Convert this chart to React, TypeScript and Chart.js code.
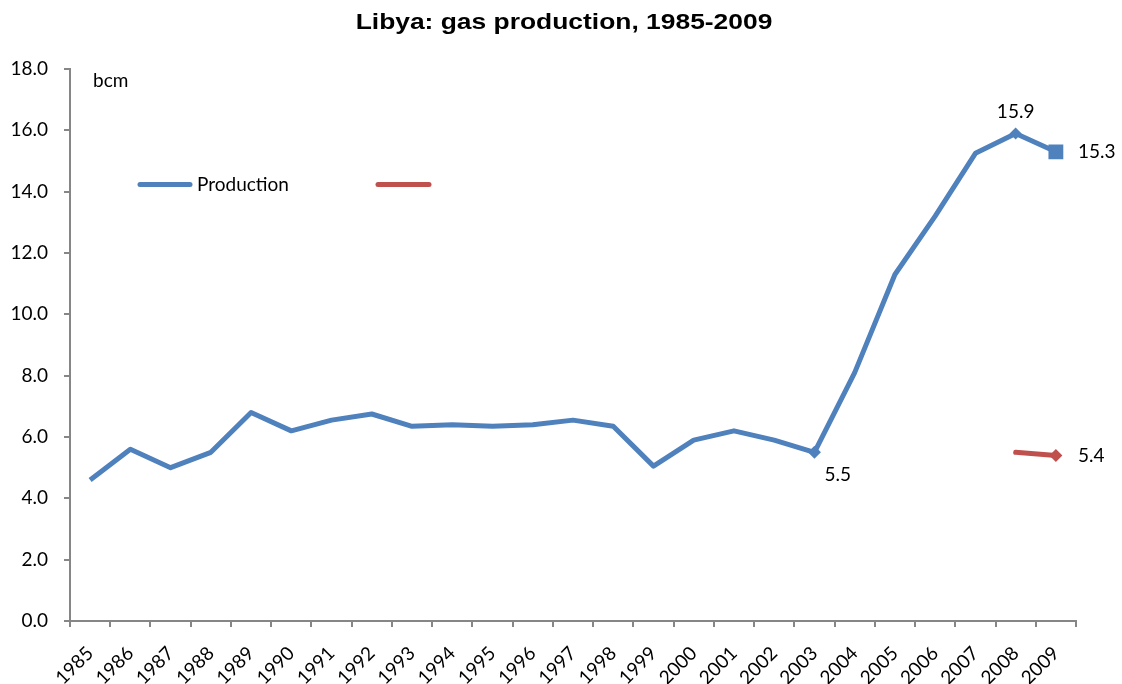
import React, { useEffect, useRef } from "react";
import { Chart, registerables } from "chart.js";

Chart.register(...registerables);

const title = "Libya: gas production, 1985-2009";
const unitLabel = "bcm";
const years = [
  "1985", "1986", "1987", "1988", "1989", "1990", "1991", "1992", "1993",
  "1994", "1995", "1996", "1997", "1998", "1999", "2000", "2001", "2002",
  "2003", "2004", "2005", "2006", "2007", "2008", "2009",
];
const production = [
  4.6, 5.6, 5.0, 5.5, 6.8, 6.2, 6.55, 6.75, 6.35, 6.4, 6.35, 6.4, 6.55, 6.35,
  5.05, 5.9, 6.2, 5.9, 5.5, 8.1, 11.3, 13.2, 15.25, 15.9, 15.3,
];
const secondSeries = [
  null, null, null, null, null, null, null, null, null, null, null, null, null,
  null, null, null, null, null, null, null, null, null, null, 5.5, 5.4,
];
const productionLabel = "Production";
const secondLabel = "";
// which points get a value label, and where
const productionLabelPos: (string | null)[] = years.map((y) =>
  y === "2003" ? "below" : y === "2008" ? "above" : y === "2009" ? "right" : null
);
const secondLabelPos: (string | null)[] = years.map((y) => (y === "2009" ? "right" : null));
const productionPointStyle = years.map((y) => (y === "2009" ? "rect" : "rectRot"));
const productionPointRadius = years.map((y) =>
  y === "2003" ? 6.5 : y === "2008" ? 6 : y === "2009" ? 10.5 : 0
);
const secondPointRadius = years.map((y) => (y === "2009" ? 6.5 : 0));

const BLUE = "#4F81BD";
const RED = "#C0504D";
const AXIS = "#868686";
const FONT = "Lato";
const FS = 19;

const overlay = {
  id: "overlay",
  afterDraw(chart: any) {
    const ctx = chart.ctx;
    const area = chart.chartArea;
    ctx.save();
    // title (reference text is horizontally widened)
    ctx.fillStyle = "#000";
    ctx.save();
    ctx.translate(564, 23);
    ctx.scale(1.2, 1);
    ctx.font = "bold 22px 'Liberation Sans', Arial, sans-serif";
    ctx.textAlign = "center";
    ctx.textBaseline = "middle";
    ctx.fillText(title, 0, 0);
    ctx.restore();
    // unit
    ctx.font = `${FS}px ${FONT}`;
    ctx.textAlign = "left";
    ctx.textBaseline = "middle";
    ctx.fillText(unitLabel, area.left + 23, 81);
    // legend
    const ly = 184.5;
    ctx.lineCap = "round";
    ctx.lineWidth = 5;
    ctx.strokeStyle = BLUE;
    ctx.beginPath();
    ctx.moveTo(140, ly);
    ctx.lineTo(190, ly);
    ctx.stroke();
    ctx.fillText(productionLabel, 197, ly);
    ctx.strokeStyle = RED;
    ctx.beginPath();
    ctx.moveTo(378, ly);
    ctx.lineTo(429, ly);
    ctx.stroke();
    if (secondLabel) ctx.fillText(secondLabel, 435, ly);
    // value labels
    const sets = [productionLabelPos, secondLabelPos];
    sets.forEach((pos, di) => {
      const meta = chart.getDatasetMeta(di);
      const data = chart.data.datasets[di].data;
      pos.forEach((p, i) => {
        if (!p) return;
        const el = meta.data[i];
        const txt = Number(data[i]).toFixed(1);
        ctx.fillStyle = "#000";
        if (p === "above") {
          ctx.textAlign = "center";
          ctx.fillText(txt, el.x, el.y - 22);
        } else if (p === "right") {
          ctx.textAlign = "left";
          ctx.fillText(txt, el.x + 22, el.y);
        } else if (p === "below") {
          ctx.textAlign = "left";
          ctx.fillText(txt, el.x + 10, el.y + 23);
        }
      });
    });
    ctx.restore();
  },
};

export default function App() {
  const ref = useRef<HTMLCanvasElement>(null);
  useEffect(() => {
    const chart = new Chart(ref.current as HTMLCanvasElement, {
      type: "line",
      data: {
        labels: years,
        datasets: [
          {
            label: productionLabel,
            data: production,
            borderColor: BLUE,
            backgroundColor: BLUE,
            borderWidth: 5,
            pointStyle: productionPointStyle as any,
            pointRadius: productionPointRadius,
            pointBorderWidth: 0,
            borderJoinStyle: "round",
            tension: 0,
          },
          {
            label: secondLabel,
            data: secondSeries,
            borderColor: RED,
            backgroundColor: RED,
            borderWidth: 5,
            borderCapStyle: "round",
            pointStyle: "rectRot",
            pointRadius: secondPointRadius,
            pointBorderWidth: 0,
            tension: 0,
          },
        ],
      },
      options: {
        animation: false,
        responsive: false,
        devicePixelRatio: 1,
        layout: { padding: { top: 69, right: 46, left: 0, bottom: 0 } },
        plugins: {
          legend: { display: false },
          title: { display: false },
          tooltip: { enabled: false },
        },
        scales: {
          x: {
            type: "category",
            offset: true,
            afterFit: (s: any) => {
              s.height = 63;
            },
            grid: {
              offset: true,
              drawOnChartArea: false,
              drawTicks: true,
              tickLength: 6,
              color: AXIS,
              lineWidth: 2,
            },
            border: { color: AXIS, width: 2 },
            ticks: {
              autoSkip: false,
              minRotation: 45,
              maxRotation: 45,
              padding: 15,
              color: "#000",
              font: { family: FONT, size: FS },
            },
          },
          y: {
            min: 0,
            max: 18,
            afterFit: (s: any) => {
              s.width = 70;
            },
            grid: {
              drawOnChartArea: false,
              drawTicks: true,
              tickLength: 6,
              color: AXIS,
              lineWidth: 2,
            },
            border: { color: AXIS, width: 2 },
            ticks: {
              stepSize: 2,
              padding: 16,
              color: "#000",
              font: { family: FONT, size: FS },
              callback: (v: any) => Number(v).toFixed(1),
            },
          },
        },
      },
      plugins: [overlay],
    });
    return () => chart.destroy();
  }, []);
  return (
    <div style={{ position: "absolute", left: 0, top: 0, width: 1122, height: 684, background: "#fff" }}>
      <canvas ref={ref} width={1122} height={684} />
    </div>
  );
}
